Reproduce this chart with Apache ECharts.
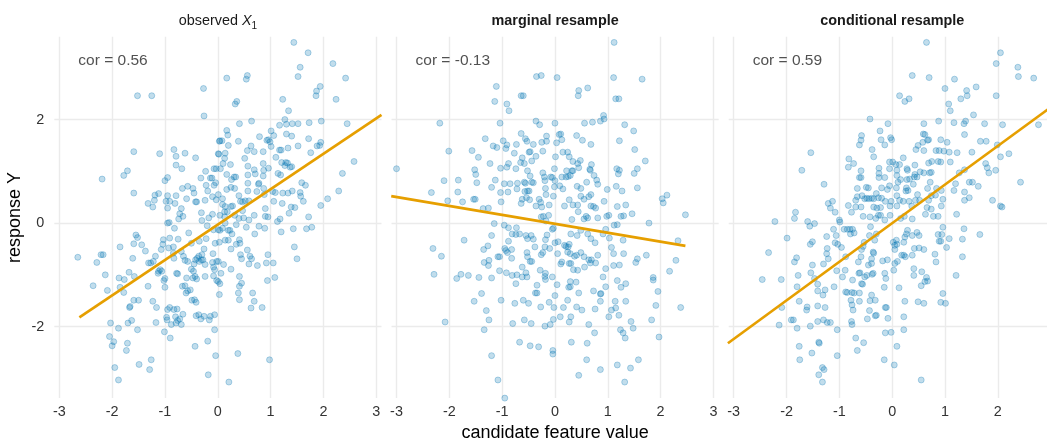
<!DOCTYPE html>
<html>
<head>
<meta charset="utf-8">
<script src="https://cdn.jsdelivr.net/npm/echarts@6.0.0/dist/echarts.min.js"></script>
<style>
  html, body { margin: 0; padding: 0; background: #ffffff; overflow: hidden; }
  /* the third facet runs a few pixels past the right edge of the page */
  #chart { width: 1060px; height: 441px; }
</style>
</head>
<body>
<div id="chart"></div>
<script>
// Facet strip titles and per-panel correlation notes
const panelTitles = ['{n|observed }{i|X}{s|1}', 'marginal resample', 'conditional resample'];
const panelBold = [false, true, true];
const corLabels = ['cor = 0.56', 'cor = -0.13', 'cor = 0.59'];
const corAnchor = [-2.64, 3.13];

// Axis ranges shared by all facets
const xRange = [-3.095, 3.1];
const yRange = [-3.38, 3.6];

// Observed feature vs response
const observedPts = [
[1.44,3.49],[1.71,3.29],[1.56,3.01],[1.52,2.83],[2.18,3.08],[2.42,2.80],[0.17,2.80],[0.56,2.85],[0.54,2.78],[0.36,2.35],[0.33,2.30],[1.87,2.55],[1.86,2.46],[1.94,2.64],[2.24,2.39],[1.23,2.39],[1.34,2.17],[0.64,1.97],[0.41,1.92],[1.17,1.89],[1.27,2.00],[1.30,1.91],[1.41,1.92],[1.52,1.92],[1.73,1.94],[1.96,1.97],[2.45,1.92],[1.01,1.78],[1.06,1.69],[0.79,1.67],[0.96,1.61],[0.99,1.57],[0.93,1.60],[1.01,1.48],[1.30,1.72],[1.40,1.68],[1.72,1.63],[1.95,1.56],[1.88,1.49],[1.93,1.50],[1.52,1.49],[1.33,1.45],[1.20,1.41],[1.17,1.41],[1.76,1.36],[0.86,1.38],[0.69,1.38],[0.56,1.40],[0.63,1.49],[0.39,1.58],[0.19,1.70],[0.17,1.79],[0.04,1.59],[0.08,1.59],[0.03,1.58],[0.20,1.50],[0.01,1.34],[0.02,1.33],[0.14,1.35],[0.13,1.25],[0.10,1.15],[0.51,1.25],[1.10,1.27],[1.21,1.17],[1.29,1.17],[1.32,1.16],[1.27,1.11],[1.40,1.09],[1.37,1.08],[1.14,0.96],[1.19,0.93],[0.86,1.15],[0.96,1.06],[0.87,1.02],[0.57,1.10],[0.69,1.03],[0.71,0.95],[0.86,0.91],[0.57,0.93],[0.31,0.89],[0.34,0.89],[0.26,0.84],[0.17,0.94],[0.24,1.13],[-0.03,1.05],[-0.07,1.05],[0.05,1.05],[-0.11,0.87],[-0.14,0.87],[-0.04,0.78],[-0.07,0.73],[-0.10,0.51],[0.01,0.55],[-0.03,0.45],[0.09,0.47],[0.17,0.65],[0.25,0.69],[0.32,0.67],[0.40,0.53],[0.47,0.41],[0.52,0.43],[0.43,0.42],[0.59,0.43],[0.57,0.62],[0.57,0.77],[0.78,0.77],[0.77,0.75],[0.74,0.61],[0.87,0.67],[0.88,0.55],[1.04,0.61],[1.09,0.59],[1.06,0.42],[1.23,0.58],[1.33,0.58],[1.41,0.62],[1.22,0.38],[1.59,0.78],[1.66,0.73],[1.56,0.59],[1.57,0.52],[1.62,0.42],[1.39,0.31],[1.46,0.30],[1.35,0.19],[1.18,0.08],[0.90,0.28],[0.95,0.12],[0.90,0.13],[0.69,0.15],[0.59,0.06],[0.49,0.10],[0.47,0.24],[0.32,0.15],[0.40,0.09],[0.13,0.12],[0.04,0.15],[0.14,0.32],[0.25,0.32],[0.28,0.33],[0.13,0.22],[0.18,0.22],[0.09,0.36],[1.72,0.12],[1.95,0.34],[2.08,0.47],[2.29,0.62],[2.36,0.96],[2.58,1.19],[-0.10,0.17],
[-0.08,-0.13],[0.01,-0.13],[0.04,-0.14],[0.09,-0.10],[0.14,0.00],[0.20,-0.14],[0.23,-0.14],[0.27,-0.21],[0.35,-0.03],[0.54,-0.08],[0.78,-0.06],[0.70,-0.21],[0.89,-0.10],[1.13,0.03],[1.20,-0.17],[1.43,-0.11],[1.68,-0.11],[1.78,-0.08],[0.14,-0.33],[0.20,-0.33],[0.03,-0.37],[-0.05,-0.39],[0.35,-0.41],[0.41,-0.32],[0.42,-0.39],[0.25,-0.50],[0.56,-0.52],[0.43,-0.61],[0.45,-0.69],[0.61,-0.64],[0.64,-0.69],[0.59,-0.79],[0.75,-0.82],[0.95,-0.61],[0.92,-0.77],[1.05,-0.77],[1.45,-0.46],[1.50,-0.69],[-0.09,-0.59],[-0.10,-0.76],[-0.02,-0.74],[0.01,-0.74],[-0.08,-0.85],[-0.06,-0.90],[0.11,-0.80],[0.25,-0.89],[0.06,-0.97],[-0.08,-1.02],[-0.02,-1.11],[0.01,-1.13],[0.04,-1.17],[0.03,-1.38],[0.41,-1.03],[0.45,-1.16],[0.41,-1.22],[0.39,-1.35],[0.41,-1.48],[0.66,-1.35],[0.69,-1.51],[0.63,-1.64],[0.84,-1.63],[0.94,-1.11],[1.08,-1.05],[-0.06,-1.77],[-0.14,-1.80],[-0.06,-2.06],[-0.04,-2.56],[0.38,-2.52],[0.98,-2.64],[0.21,-3.07],
[-2.65,-0.66],[-2.36,-1.21],[-2.29,-0.76],[-2.21,-0.61],[-2.17,-0.61],[-2.13,-1.00],[-2.09,-1.30],[-2.03,-1.93],[-2.05,-2.19],[-2.00,-2.37],[-1.97,-2.29],[-1.95,-2.79],[-1.88,-3.03],[-1.88,-2.03],[-2.07,-3.40],[-1.87,-1.06],[-1.85,-1.24],[-1.77,-1.09],[-1.78,-1.34],[-1.85,-0.46],[-1.71,-2.32],[-1.73,-2.46],[-1.70,-1.93],[-1.63,-1.88],[-1.67,-1.63],[-1.66,-1.61],[-1.68,-0.95],[-1.61,-0.68],[-1.58,-1.03],[-1.59,-1.49],[-1.50,-1.49],[-1.52,-2.06],[-1.49,-2.73],[-1.55,-0.23],[-1.52,-0.28],[-1.59,-0.40],[-1.44,-0.42],[-1.37,-0.54],[-1.32,-1.22],[-1.31,-0.77],[-1.27,-0.77],[-1.23,-1.51],[-1.16,-1.63],[-1.26,-2.64],[-1.29,-2.83],[-1.17,-1.92],[-1.18,-0.64],[-1.22,-0.74],[-1.13,-0.97],[-1.12,-0.93],[-1.09,-0.90],[-1.06,-0.93],[-1.07,-0.51],[-1.04,-0.41],[-1.03,-0.32],[-1.02,-1.11],[-1.00,-1.07],[-1.00,-1.24],[-1.01,-2.10],[-0.95,-1.67],[-0.97,-1.82],[-0.96,-1.87],[-0.91,-1.63],[-0.93,-0.48],[-0.91,-0.29],[-0.95,0.00],[-0.92,0.01],[-0.88,-1.96],[-0.90,-2.22],[-0.84,-0.46],[-0.82,-0.10],[-0.84,-0.58],[-0.83,-0.68],[-0.83,-1.67],[-0.79,-1.93],[-0.80,-1.81],[-0.76,-1.88],[-0.77,-1.66],[-0.72,-1.85],[-0.69,-1.96],[-0.66,-1.76],[-0.78,-0.97],[-0.76,-0.98],[-0.75,-0.31],[-0.69,-0.55],[-0.65,-0.64],[-0.62,-0.72],[-0.57,-0.74],[-0.67,-1.22],[-0.62,-1.21],[-0.60,-1.35],[-0.57,-1.31],[-0.52,-1.29],[-0.59,-1.06],[-0.47,-1.06],[-0.43,-1.03],[-0.40,-1.08],[-0.50,-0.89],[-0.46,-0.93],[-0.49,-1.49],[-0.44,-1.48],[-0.41,-1.53],[-0.45,-0.79],[-0.42,-0.71],[-0.39,-0.68],[-0.36,-0.64],[-0.35,-0.74],[-0.31,-0.71],[-0.43,-2.38],[-0.41,-1.79],[-0.36,-1.77],[-0.32,-1.85],[-0.26,-1.80],[-0.30,-0.61],[-0.26,-0.50],[-0.28,-0.71],[-0.24,-0.80],[-0.24,-1.03],[-0.19,-2.28],[-0.18,-2.93],[-0.16,-1.87],[-0.74,0.08],[-0.66,0.13],[-0.55,-0.19],[-0.50,-0.39],[-0.35,-0.35],[-0.22,-0.30],[-0.20,-0.05],[-0.30,0.05],[-0.17,0.10],
[-1.52,2.46],[-1.25,2.46],[-0.27,2.60],[-0.26,2.07],[-1.59,1.38],[-1.10,1.34],[-0.83,1.42],[-0.79,1.29],[-0.62,1.35],[-0.42,1.26],[-0.79,1.12],[-0.68,1.05],[-2.19,0.85],[-1.78,0.92],[-1.71,1.01],[-1.59,0.58],[-1.32,0.38],[-1.23,0.31],[-1.19,0.54],[-1.12,0.57],[-1.20,0.44],[-1.00,0.82],[-0.95,0.88],[-0.95,0.53],[-0.98,0.42],[-0.91,0.42],[-0.95,0.29],[-0.81,0.38],[-0.79,0.53],[-0.69,0.28],[-0.67,0.67],[-0.57,0.71],[-0.59,0.47],[-0.47,0.67],[-0.45,0.58],[-0.42,0.41],[-0.40,0.41],[-0.31,0.20],[-0.23,1.00],[-0.32,0.87],[-0.19,0.62],[-0.22,0.73],[-0.24,0.44],[-0.72,0.18]
];

// Feature drawn from its marginal distribution vs response
const marginalPts = [
[1.12,3.49],[1.11,2.81],[1.65,2.78],[1.15,2.40],[1.21,2.40],[0.45,2.56],[0.44,2.46],[0.62,2.61],[-0.35,2.83],[-0.26,2.85],[0.04,2.81],[-1.11,2.64],[-1.14,2.35],[-0.64,2.46],[-0.60,2.46],[-0.91,2.30],[-0.87,2.17],[-2.18,1.93],[-3.00,1.05],[-1.04,1.93],[-0.36,1.97],[-0.29,1.90],[0.00,1.93],[0.56,1.93],[0.71,1.95],[0.86,1.97],[0.92,2.08],[0.93,2.01],[1.32,1.90],[1.49,1.78],[1.22,1.59],[1.51,1.42],[1.71,1.20],[1.56,1.05],[1.50,0.96],[1.17,1.05],[1.22,1.02],[1.20,0.95],[1.16,0.71],[1.27,0.62],[0.99,0.65],[0.93,0.42],[1.18,0.32],[1.34,0.35],[1.46,0.18],[1.56,0.68],[2.03,0.47],[2.12,0.54],[2.05,0.39],[2.47,0.16],[1.30,0.14],[1.25,0.13],[1.02,0.15],[0.98,0.13],[0.77,0.29],[0.68,0.33],[0.73,0.32],[0.81,0.10],[0.62,0.10],[0.55,0.08],[0.59,0.13],[0.32,0.07],[0.44,0.22],[0.43,0.35],[0.55,0.46],[0.64,0.51],[0.49,0.52],[0.27,0.45],[0.34,0.35],[0.18,0.33],[0.15,0.66],[-0.01,0.70],[-0.03,0.52],[-0.18,0.67],[-0.17,0.55],[-0.11,0.35],[-0.25,0.31],[-0.27,0.40],[-0.36,0.33],[-0.30,0.46],[-0.26,0.12],[-0.22,0.13],[-0.12,0.15],[-0.17,0.04],[-0.48,0.45],[-0.54,0.49],[-0.52,0.62],[-0.57,0.61],[-0.49,0.62],[-0.62,0.46],[-0.64,0.38],[-0.71,0.77],[-0.85,0.76],[-0.96,0.76],[-0.72,0.66],[-0.89,0.60],[-1.02,0.41],[-1.03,0.59],[-1.13,0.83],[-1.20,0.69],[-1.36,0.28],[-1.26,0.29],[-1.48,0.78],[-1.54,0.46],[-1.51,0.46],[-1.75,0.41],[-1.84,0.60],[-1.83,0.83],[-2.03,0.43],[-2.10,0.82],[-2.34,0.59],[-2.01,1.39],[-1.57,1.40],[-1.45,1.27],[-1.23,1.15],[-1.52,1.03],[-1.50,0.94],[-1.32,1.63],[-1.17,1.49],[-1.10,1.46],[-0.98,1.59],[-0.93,1.44],[-0.91,1.51],[-1.03,1.06],[-0.91,1.08],[-0.88,1.15],[-0.73,1.52],[-0.77,1.35],[-0.64,1.73],[-0.56,1.63],[-0.53,1.58],[-0.47,1.38],[-0.49,1.37],[-0.41,1.52],[-0.36,1.29],[-0.23,1.39],[-0.25,1.56],[-0.16,1.68],[-0.16,1.58],[-0.62,1.26],[-0.65,1.17],[-0.58,1.15],[-0.74,1.05],[-0.44,1.20],[-0.52,1.01],[-0.47,0.91],[-0.58,0.79],[-0.56,0.77],[-0.41,0.78],[-0.44,0.79],[-0.23,0.97],[-0.20,0.89],[-0.08,0.89],[-0.05,0.88],[-0.19,0.82],[0.00,0.82],[-0.01,1.05],[0.01,1.28],[0.08,1.71],[0.11,1.72],[0.03,1.55],[0.13,1.61],[0.15,1.37],[0.24,1.37],[0.27,1.28],[0.34,1.19],[0.34,1.01],[0.48,1.21],[0.43,1.15],[0.41,1.69],[0.52,1.60],[0.68,1.52],[0.69,1.13],[0.66,1.04],[0.67,1.02],[0.74,0.92],[0.79,0.83],[0.81,0.75],[0.60,0.79],[0.22,1.01],[0.29,0.92],[0.25,0.90],[0.32,1.01],[0.45,1.07],[0.09,0.72],[0.13,0.89],[0.21,0.89],[0.42,0.71],[0.49,0.67],[0.68,0.55],
[-3.10,-0.46],[-2.31,-0.49],[-2.15,-0.64],[-1.72,-0.33],[-2.29,-0.99],[-1.86,-1.07],[-1.78,-0.99],[-1.64,-1.01],[-1.44,-1.05],[-2.08,-1.91],[-1.53,-1.51],[-1.39,-1.36],[-1.30,-1.69],[-1.25,-1.87],[-1.34,-2.06],[-1.20,-2.56],[-1.08,-3.03],[-0.95,-3.38],[-1.20,-1.06],[-1.26,-0.82],[-1.25,-0.72],[-1.34,-0.76],[-1.35,-0.51],[-1.27,-0.44],[-1.20,-0.24],[-1.02,-1.49],[-1.05,-0.92],[-1.08,-0.65],[-1.05,-0.65],[-0.95,-0.49],[-0.93,-0.53],[-0.90,-0.57],[-0.88,-0.35],[-0.82,-0.51],[-0.82,-0.68],[-0.92,-0.96],[-0.81,-1.01],[-0.72,-1.00],[-0.74,-1.17],[-0.76,-1.55],[-0.80,-1.94],[-0.67,-2.30],[-0.58,-1.87],[-0.60,-1.49],[-0.62,-0.85],[-0.62,-1.04],[-0.53,-1.04],[-0.55,-0.96],[-0.50,-1.55],[-0.45,-1.94],[-0.47,-2.37],[-0.31,-2.39],[-0.47,-0.74],[-0.44,-0.74],[-0.52,-0.65],[-0.53,-0.57],[-0.52,-0.30],[-0.41,-0.31],[-0.38,-0.46],[-0.55,-0.24],[-0.45,-0.24],[-0.67,-0.21],[-0.74,-0.22],[-0.88,-0.09],[-0.73,-0.09],[-0.81,-0.21],[-0.28,-0.91],[-0.18,-0.97],[-0.19,-1.03],[-0.34,-1.20],[-0.34,-1.35],[-0.37,-1.35],[-0.27,-1.62],[-0.18,-1.09],[-0.11,-1.53],[-0.05,-1.04],[-0.02,-1.63],[-0.03,-1.86],[-0.09,-1.96],[-0.19,-1.99],[-0.04,-2.46],[-0.04,-2.53],[0.04,-1.19],[0.00,-1.40],[0.10,-1.81],[0.16,-1.63],[0.24,-1.49],[0.27,-1.91],[0.30,-1.81],[0.31,-2.30],[0.29,-1.13],[0.29,-1.23],[0.26,-1.24],[0.40,-1.14],[0.41,-1.62],[0.45,-1.35],[0.51,-1.68],[0.45,-2.94],[0.60,-2.64],[0.61,-2.32],[0.64,-1.96],[0.75,-2.12],[0.76,-1.66],[0.73,-1.31],[0.86,-1.37],[0.87,-1.36],[0.86,-1.51],[0.86,-2.83],[0.96,-1.23],[1.02,-1.81],[1.07,-1.68],[1.14,-1.51],[1.15,-1.64],[1.21,-1.78],[1.18,-2.74],[1.24,-2.06],[1.29,-2.12],[1.33,-2.22],[1.32,-3.07],[1.34,-1.51],[1.44,-1.90],[1.48,-2.03],[1.43,-2.80],[1.58,-2.64],[1.83,-1.87],[1.91,-1.59],[1.97,-2.20],[1.95,-1.32],[1.86,-1.05],[1.86,-1.10],[2.38,-1.63],[2.17,-0.93],[2.29,-0.72],[2.33,-0.34],[1.73,-0.62],[1.78,0.00],[1.53,-0.76],[1.56,-0.69],[1.34,-1.17],[1.25,-1.24],[1.18,-1.11],[1.22,-0.81],[1.11,-0.82],[1.11,-0.59],[1.30,-0.59],[1.29,-0.33],[1.07,-0.47],[1.03,-0.29],[0.96,-0.88],[0.91,-1.04],[0.81,-0.62],[0.77,-0.77],[0.67,-0.77],[0.64,-0.71],[0.69,-0.71],[0.55,-0.65],[0.56,-0.85],[0.43,-0.91],[0.35,-0.90],[0.30,-0.78],[0.27,-0.78],[0.37,-0.64],[0.41,-0.62],[0.49,-0.57],[0.29,-0.59],[0.24,-0.56],[0.21,-0.45],[0.18,-0.43],[0.25,-0.46],[0.27,-0.41],[0.11,-0.79],[0.13,-0.75],[0.05,-0.59],[0.00,-0.38],[0.06,-0.36],[-0.05,-0.12],[-0.03,-0.10],[-0.15,-0.23],[-0.18,-0.32],[-0.19,-0.46],[-0.10,-0.49],[-0.23,-0.57],[-0.26,-0.61],[0.30,-0.21],[0.42,-0.24],[0.49,-0.14],[0.62,-0.21],[0.68,-0.30],[0.76,-0.38],[0.91,-0.21],[0.96,-0.12],[1.18,-0.03],[1.12,-0.04],[-0.96,-0.04],[-1.15,-0.01]
];

// Feature drawn conditionally on the other covariates vs response
const conditionalPts = [
[0.65,3.49],[2.05,3.29],[1.97,3.08],[2.38,3.01],[2.39,2.83],[2.68,2.80],[0.38,2.85],[0.70,2.81],[1.18,2.78],[1.00,2.60],[1.59,2.63],[1.41,2.56],[1.42,2.46],[1.30,2.40],[1.97,2.46],[1.07,2.30],[1.10,2.17],[1.54,2.09],[0.14,2.46],[0.24,2.35],[0.32,2.40],[-0.42,2.01],[-0.08,1.92],[0.60,1.92],[0.88,1.97],[1.17,1.94],[1.36,1.92],[1.39,1.97],[1.75,1.92],[2.09,1.90],[2.77,1.90],[-1.54,1.36],[-1.71,1.02],[-1.29,0.75],[-2.22,0.03],[-1.83,0.21],[-1.85,0.09],[-1.60,0.03],[-1.47,-0.01],[-1.13,0.42],[-1.21,0.38],[-1.17,0.29],[-1.08,0.21],[-1.00,0.06],[-0.99,0.02],[-0.83,0.34],[-0.77,0.21],[-0.66,0.67],[-0.69,0.44],[-0.59,0.31],[-0.55,0.13],[-0.59,1.01],[-0.62,0.88],[-0.59,0.88],[-0.82,1.24],[-0.83,1.08],[-0.73,1.15],[-0.62,1.51],[-0.59,1.60],[-0.58,1.69],[-0.38,1.42],[-0.35,1.28],[-0.25,1.06],[-0.25,0.96],[-0.23,1.78],[-0.21,1.61],[-0.14,1.51],[-0.03,1.65],[-0.01,1.61],[-0.05,1.18],[0.01,1.18],[0.07,1.13],[-0.05,1.05],[0.09,1.02],[0.14,1.13],[0.21,1.26],[0.28,1.05],[0.29,1.02],[0.43,1.12],[0.45,1.42],[0.49,1.50],[0.58,1.56],[0.60,1.40],[0.59,1.72],[0.62,1.71],[0.67,1.60],[0.69,1.61],[0.92,1.61],[1.04,1.56],[0.83,1.40],[0.89,1.40],[0.98,1.39],[1.08,1.37],[1.23,1.36],[0.87,1.19],[0.75,1.19],[0.69,1.16],[0.92,1.18],[1.10,1.18],[1.37,1.71],[1.51,1.37],[1.67,1.58],[1.78,1.58],[1.99,1.51],[2.05,1.28],[2.21,1.34],[1.77,1.15],[1.80,1.07],[1.96,1.02],[1.83,0.97],[2.43,0.79],[1.63,0.71],[1.52,0.79],[1.46,0.79],[1.37,1.03],[1.27,0.97],[1.20,0.76],[1.17,0.63],[1.37,0.60],[1.37,0.44],[1.46,0.49],[1.90,0.44],[2.05,0.33],[2.08,0.31],[1.22,0.17],[0.93,0.33],[0.96,0.46],[0.93,0.63],[0.84,0.67],[0.67,0.67],[0.82,0.54],[0.74,0.53],[0.69,0.44],[0.66,0.30],[0.74,0.27],[0.63,0.17],[0.78,0.13],[0.87,0.13],[0.38,0.08],[0.52,0.44],[0.44,0.44],[0.48,0.55],[0.40,0.75],[0.33,0.85],[0.27,0.68],[0.30,0.63],[0.26,0.62],[0.42,0.89],[0.47,0.89],[0.43,0.94],[0.53,0.99],[0.60,0.97],[0.71,0.97],[0.74,0.98],[0.72,0.79],[0.28,0.84],[0.16,0.84],[0.09,0.92],[0.11,0.79],[0.08,0.68],[0.09,0.53],[0.14,0.44],[0.21,0.42],[0.32,0.42],[0.37,0.33],[0.23,0.13],[0.16,0.09],[0.09,0.33],[-0.04,0.15],[-0.04,0.33],[-0.02,0.42],[-0.13,0.42],[-0.20,0.48],[-0.09,0.65],[-0.05,0.72],[-0.20,0.68],[-0.25,0.88],[-0.14,0.88],[-0.30,0.57],[-0.26,0.49],[-0.39,0.48],[-0.35,0.47],[-0.44,0.47],[-0.35,0.31],[-0.22,0.30],[-0.29,0.29],[-0.22,0.15],[-0.26,0.15],[-0.42,0.12],[-0.31,0.09],[-0.14,0.06],[-0.49,0.69],[-0.45,0.68],[-0.48,0.48],[-0.52,0.47],[-0.57,0.53],[-0.66,0.51],[-0.69,0.31],
[-2.86,-3.39],[-2.46,-1.09],[-2.34,-0.57],[-2.10,-1.09],[-2.09,-1.63],[-2.14,-1.97],[-1.99,-0.29],[-1.91,-1.87],[-1.87,-1.87],[-1.80,-2.03],[-1.76,-2.38],[-1.75,-2.64],[-1.76,-1.51],[-1.78,-1.01],[-1.80,-1.23],[-1.85,-0.75],[-1.81,-0.67],[-1.61,-1.62],[-1.62,-1.68],[-1.56,-0.06],[-1.55,-0.41],[-1.51,-0.36],[-1.51,-0.81],[-1.54,-0.96],[-1.55,-1.99],[-1.52,-2.51],[-1.47,-1.07],[-1.41,-1.18],[-1.41,-1.31],[-1.41,-1.60],[-1.41,-1.90],[-1.39,-2.30],[-1.38,-2.32],[-1.39,-2.93],[-1.32,-2.79],[-1.29,-2.83],[-1.32,-3.07],[-1.31,-1.39],[-1.27,-1.29],[-1.27,-1.63],[-1.30,-1.87],[-1.23,-1.92],[-1.17,-1.92],[-1.30,-0.79],[-1.24,-0.26],[-1.21,-0.69],[-1.24,-0.59],[-1.23,-0.49],[-1.11,-0.12],[-1.10,-1.23],[-1.05,-0.92],[-1.04,-2.06],[-1.04,-2.56],[-1.08,-0.38],[-1.03,-0.41],[-0.96,-0.47],[-0.94,-1.04],[-0.89,-0.91],[-0.88,-1.33],[-0.85,-1.34],[-0.88,-0.65],[-0.91,-0.12],[-0.85,-0.12],[-0.80,-0.12],[-0.75,-0.12],[-0.72,-0.19],[-1.06,-0.24],[-0.79,-0.21],[-0.78,-1.49],[-0.76,-1.58],[-0.74,-1.68],[-0.77,-1.90],[-0.76,-1.96],[-0.75,-1.10],[-0.72,-1.35],[-0.76,-1.34],[-0.69,-2.22],[-0.66,-2.46],[-0.62,-1.51],[-0.62,-1.35],[-0.63,-0.97],[-0.61,-0.96],[-0.58,-1.17],[-0.56,-1.18],[-0.64,-0.75],[-0.59,-0.65],[-0.58,-0.51],[-0.55,-0.45],[-0.53,-0.37],[-0.54,-2.31],[-0.52,-1.04],[-0.48,-1.01],[-0.47,-1.85],[-0.43,-1.69],[-0.42,-1.50],[-0.32,-1.49],[-0.39,-1.39],[-0.32,-1.79],[-0.30,-1.78],[-0.36,-0.97],[-0.38,-0.99],[-0.39,-0.78],[-0.45,-0.81],[-0.39,-0.69],[-0.35,-0.58],[-0.36,-0.56],[-0.41,-0.07],[-0.43,-0.24],[-0.33,-0.33],[-0.30,-0.21],[-0.18,-0.73],[-0.09,-0.71],[-0.14,-0.97],[-0.12,-1.07],[-0.15,-1.24],[-0.11,-1.63],[-0.13,-1.63],[-0.08,-1.84],[-0.13,-2.12],[-0.02,-2.11],[-0.15,-2.64],[0.04,-2.74],[0.09,-2.38],[0.22,-2.06],[0.22,-1.81],[0.24,-1.51],[0.13,-1.25],[0.03,-0.91],[0.05,-0.78],[0.10,-0.74],[0.05,-0.51],[0.09,-0.41],[0.05,-0.43],[0.02,-0.37],[0.08,-0.33],[0.18,-0.62],[0.22,-0.62],[0.25,-0.65],[0.22,-0.37],[0.24,-0.27],[0.38,-0.62],[0.41,-0.88],[0.41,-1.01],[0.56,-0.94],[0.55,-1.21],[0.49,-1.52],[0.60,-1.55],[0.55,-3.03],[0.62,-1.13],[0.67,-1.12],[0.65,-1.05],[0.42,-0.49],[0.51,-0.48],[0.60,-0.51],[0.81,-0.60],[0.83,-0.75],[0.92,-1.53],[0.96,-1.36],[1.01,-1.55],[1.03,-0.47],[0.89,-0.35],[0.92,-0.35],[0.87,-0.22],[0.94,-0.22],[0.96,-0.08],[1.08,-0.30],[1.21,-1.01],[1.33,-0.31],[1.33,-0.65],[1.36,-0.11],[1.66,-0.22],[0.47,-0.18],[0.51,-0.24],[0.29,-0.14],[0.27,-0.21],[0.38,-0.24]
];

// Least-squares fit segments, [x, y] at each end
const observedFit = [[-2.62, -1.82], [3.10, 2.09]];
const marginalFit = [[-3.10, 0.52], [2.47, -0.44]];
const conditionalFit = [[-3.11, -2.32], [3.10, 2.31]];

const panelPts = [observedPts, marginalPts, conditionalPts];
const panelFits = [observedFit, marginalFit, conditionalFit];

const FONT = '"Liberation Sans", Arial, Helvetica, sans-serif';
const POINT_FILL = 'rgba(0,114,178,0.30)';
const POINT_EDGE = 'rgba(0,114,178,0.45)';
const FIT_COLOR = '#E69F00';
const GRID_LINE = '#EBEBEB';

// Facet geometry (pixels)
const facet = { left: 54.3, step: 337.2, width: 327.2, top: 36.7, height: 361.4 };

const grids = [], xAxes = [], yAxes = [], series = [], graphics = [];

panelPts.forEach((pts, i) => {
  const left = facet.left + i * facet.step;
  grids.push({ left: left, top: facet.top, width: facet.width, height: facet.height, containLabel: false });

  xAxes.push({
    gridIndex: i, type: 'value', min: xRange[0], max: xRange[1], splitNumber: 6,
    axisLine: { show: false }, axisTick: { show: false },
    axisLabel: { show: true, showMinLabel: false, showMaxLabel: false, color: '#333333',
      fontSize: 14.4, fontFamily: FONT, margin: 7 },
    splitLine: { show: true, showMinLine: false, showMaxLine: false,
      lineStyle: { color: GRID_LINE, width: 1.4 } }
  });
  yAxes.push({
    gridIndex: i, type: 'value', min: yRange[0], max: yRange[1], splitNumber: 3,
    axisLine: { show: false }, axisTick: { show: false },
    axisLabel: { show: i === 0, showMinLabel: false, showMaxLabel: false, color: '#333333',
      fontSize: 14.4, fontFamily: FONT, margin: 10 },
    splitLine: { show: true, showMinLine: false, showMaxLine: false,
      lineStyle: { color: GRID_LINE, width: 1.4 } }
  });

  series.push({
    type: 'scatter', xAxisIndex: i, yAxisIndex: i, data: pts, symbol: 'circle', symbolSize: 6,
    clip: true, silent: true, z: 2,
    itemStyle: { color: POINT_FILL, borderColor: POINT_EDGE, borderWidth: 0.8 }
  });
  series.push({
    type: 'line', xAxisIndex: i, yAxisIndex: i, data: panelFits[i], showSymbol: false,
    clip: true, silent: true, z: 3,
    lineStyle: { color: FIT_COLOR, width: 2.7, cap: 'butt' }
  });
  series.push({
    type: 'scatter', xAxisIndex: i, yAxisIndex: i, data: [corAnchor], symbolSize: 0,
    silent: true, z: 4,
    label: { show: true, position: 'inside', align: 'left', verticalAlign: 'middle',
      formatter: corLabels[i], color: '#262626', fontSize: 15.5, fontFamily: FONT }
  });

  const stripFont = { fontSize: 14.4, fontFamily: FONT, fill: '#1A1A1A' };
  graphics.push({
    type: 'text', x: left + facet.width / 2, y: 21, silent: true,
    style: Object.assign({
      text: panelTitles[i],
      fontWeight: panelBold[i] ? 'bold' : 'normal',
      align: 'center', verticalAlign: 'middle', textAlign: 'center', textVerticalAlign: 'middle',
      rich: {
        n: { fontSize: 14.4, fontFamily: FONT, color: '#1A1A1A', lineHeight: 20 },
        i: { fontSize: 14.4, fontFamily: FONT, color: '#1A1A1A', fontStyle: 'italic', lineHeight: 20 },
        s: { fontSize: 10, fontFamily: FONT, color: '#1A1A1A', lineHeight: 10, verticalAlign: 'bottom' }
      }
    }, stripFont)
  });
});

// Shared axis titles
graphics.push({
  type: 'text', x: facet.left + facet.step + facet.width / 2, y: 433, silent: true,
  style: { text: 'candidate feature value', fontSize: 18, fontFamily: FONT, fill: '#000000',
    align: 'center', verticalAlign: 'middle', textAlign: 'center', textVerticalAlign: 'middle' }
});
graphics.push({
  type: 'text', x: 15, y: facet.top + facet.height / 2, rotation: Math.PI / 2, silent: true,
  style: { text: 'response Y', fontSize: 18, fontFamily: FONT, fill: '#000000',
    align: 'center', verticalAlign: 'middle', textAlign: 'center', textVerticalAlign: 'middle' }
});

const chart = echarts.init(document.getElementById('chart'), null, { renderer: 'canvas' });
chart.setOption({
  backgroundColor: '#ffffff',
  animation: false,
  grid: grids,
  xAxis: xAxes,
  yAxis: yAxes,
  series: series,
  graphic: graphics
});
</script>
</body>
</html>
